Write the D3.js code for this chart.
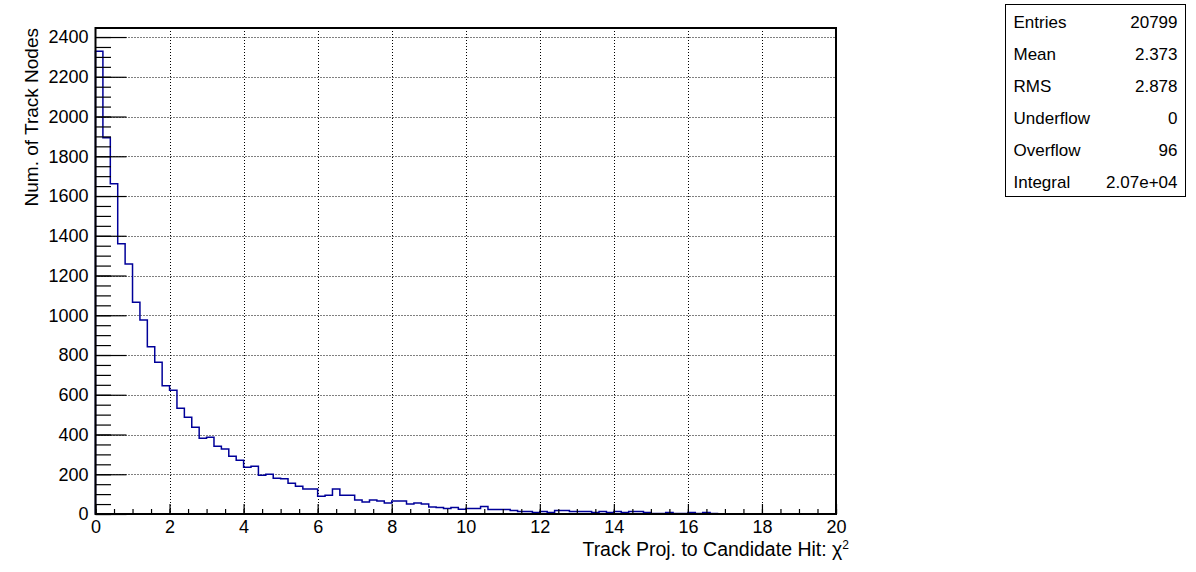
<!DOCTYPE html>
<html lang="en">
  <head>
    <meta charset="UTF-8">
    <title>Track Proj. to Candidate Hit chi2</title>
    <style>
      html, body {
        background-color: #fff;
        margin: 0;
        padding: 0;
      }
      svg text {
        font-family: "Liberation Sans", Arial, Helvetica, sans-serif;
        fill: #000;
      }
    </style>
  </head>
  <body>
    <div id="chart"></div>
    <script src="https://d3js.org/d3.v7.min.js"></script>
    <script>
      // bin contents, 100 bins of width 0.2 from 0 to 20
      var binLow = 0, binWidth = 0.2;
      var counts = [
        2329, 1893, 1662, 1360, 1258, 1066, 976, 841, 764, 645,
        623, 532, 487, 437, 381, 386, 341, 327, 291, 270,
        235, 240, 195, 200, 180, 178, 155, 140, 126, 126,
        89, 94, 126, 94, 94, 71, 60, 71, 65, 55,
        65, 65, 50, 55, 50, 35, 33, 28, 33, 24,
        28, 28, 38, 23, 23, 23, 18, 13, 13, 8,
        13, 8, 18, 18, 13, 13, 12, 7, 12, 7,
        12, 7, 12, 12, 7, 2, 2, 7, 2, 2,
        7, 2, 7, 2, 1, 0, 0, 0, 0, 0,
        0, 0, 0, 0, 0, 0, 0, 0, 0, 0
      ];
      var xTicks = [0, 2, 4, 6, 8, 10, 12, 14, 16, 18, 20];
      var yTicks = [0, 200, 400, 600, 800, 1000, 1200, 1400, 1600, 1800, 2000, 2200, 2400];
      var statNames = ["Entries", "Mean", "RMS", "Underflow", "Overflow", "Integral"];
      var statValues = ["20799", "2.373", "2.878", "0", "96", "2.07e+04"];

      var W = 1196, H = 572;
      var frame = {left: 95.5, right: 836, top: 28, bottom: 514};

      var svg = d3.select("#chart").append("svg")
        .attr("width", W)
        .attr("height", H);

      var x = d3.scaleLinear().domain([0, 20]).range([frame.left, frame.right]);
      var yMax = d3.max(counts) * 1.05;
      var y = d3.scaleLinear().domain([0, yMax]).range([frame.bottom, frame.top]);

      // grid
      var grid = svg.append("g")
        .attr("stroke", "#000")
        .attr("stroke-width", 1)
        .attr("stroke-dasharray", "1,2");
      grid.selectAll("line.gx")
        .data(xTicks.filter(function(d){ return d > 0 && d < 20; }))
        .enter().append("line")
        .attr("x1", function(d){ return Math.round(x(d)) + 0.5; })
        .attr("x2", function(d){ return Math.round(x(d)) + 0.5; })
        .attr("y1", frame.top)
        .attr("y2", frame.bottom);
      grid.selectAll("line.gy")
        .data(yTicks.filter(function(d){ return d > 0; }))
        .enter().append("line")
        .attr("y1", function(d){ return Math.round(y(d)) + 0.5; })
        .attr("y2", function(d){ return Math.round(y(d)) + 0.5; })
        .attr("x1", frame.left)
        .attr("x2", frame.right);

      // histogram outline
      var pts = counts.map(function(c, i){
        return [binLow + i * binWidth, c];
      });
      pts.unshift([0, 0]);
      pts.push([20, counts[counts.length - 1]]);
      pts.push([20, 0]);
      var line = d3.line()
        .x(function(d){ return x(d[0]); })
        .y(function(d){ return y(d[1]); })
        .curve(d3.curveStepAfter);
      svg.append("path")
        .datum(pts)
        .attr("d", line)
        .attr("fill", "none")
        .attr("stroke", "#000099")
        .attr("stroke-width", 1.5);

      // axes
      var minorY = d3.range(0, 2450, 50);
      var minorX = d3.range(0, 20.01, 0.5);

      svg.append("g")
        .attr("transform", "translate(" + frame.left + ",0)")
        .call(d3.axisLeft(y).tickValues(yTicks).tickSize(-31).tickPadding(7)
          .tickFormat(d3.format("d")));
      svg.append("g")
        .attr("transform", "translate(" + frame.left + ",0)")
        .call(d3.axisLeft(y).tickValues(minorY).tickSize(-15.5).tickFormat(""));

      svg.append("g")
        .attr("transform", "translate(0," + frame.bottom + ")")
        .call(d3.axisBottom(x).tickValues(xTicks).tickSize(-10).tickPadding(6)
          .tickFormat(d3.format("d")));
      svg.append("g")
        .attr("transform", "translate(0," + frame.bottom + ")")
        .call(d3.axisBottom(x).tickValues(minorX).tickSize(-5).tickFormat(""));

      svg.selectAll(".domain").remove();
      svg.selectAll(".tick line").attr("stroke", "#000").attr("stroke-width", 1.2);
      svg.selectAll(".tick text")
        .style("font-family", "'Liberation Sans', Arial, Helvetica, sans-serif")
        .style("font-size", "18px");

      // frame
      svg.append("rect")
        .attr("x", frame.left)
        .attr("y", frame.top)
        .attr("width", frame.right - frame.left)
        .attr("height", frame.bottom - frame.top)
        .attr("fill", "none")
        .attr("stroke", "#000")
        .attr("stroke-width", 2);

      // axis titles
      svg.append("text")
        .attr("transform", "translate(38," + frame.top + ") rotate(-90)")
        .attr("text-anchor", "end")
        .style("font-size", "19px")
        .text("Num. of Track Nodes");

      var xt = svg.append("text")
        .attr("x", frame.right + 13)
        .attr("y", 556)
        .attr("text-anchor", "end")
        .style("font-size", "19.5px");
      xt.append("tspan").text("Track Proj. to Candidate Hit: \u03c7");
      xt.append("tspan").attr("dy", -7).style("font-size", "12px").text("2");

      // stats box
      var box = {x: 1005.5, y: 4.5, w: 180, h: 192};
      svg.append("rect")
        .attr("x", box.x).attr("y", box.y)
        .attr("width", box.w).attr("height", box.h)
        .attr("fill", "#fff")
        .attr("stroke", "#000")
        .attr("stroke-width", 1);
      var rows = svg.append("g").selectAll("g")
        .data(statNames)
        .enter().append("g")
        .attr("transform", function(d, i){ return "translate(0," + (22 + i * 32) + ")"; });
      rows.append("text")
        .attr("x", box.x + 8)
        .attr("dy", "0.35em")
        .style("font-size", "17px")
        .text(function(d){ return d; });
      rows.append("text")
        .attr("x", box.x + box.w - 8)
        .attr("dy", "0.35em")
        .attr("text-anchor", "end")
        .style("font-size", "17px")
        .text(function(d, i){ return statValues[i]; });
    </script>
  </body>
</html>
